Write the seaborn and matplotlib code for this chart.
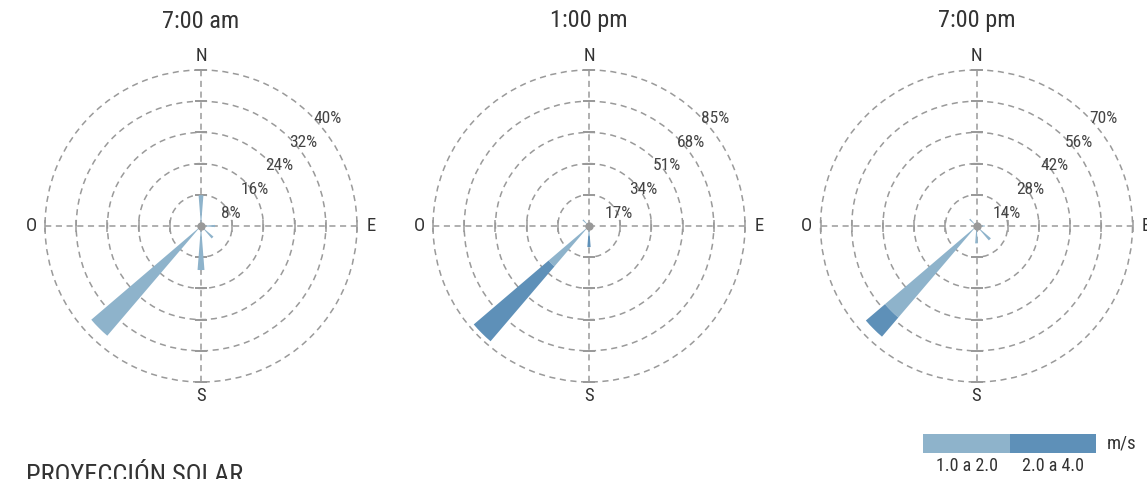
import numpy as np
import pandas as pd
import matplotlib
matplotlib.use("Agg")
import matplotlib.pyplot as plt
from matplotlib import font_manager
import seaborn as sns

# Data
times = ["7:00 am", "1:00 pm", "7:00 pm"]
ring_max = [40, 85, 70]
speed_classes = ["1.0 a 2.0", "2.0 a 4.0"]
compass = ["N", "NNE", "NE", "ENE", "E", "ESE", "SE", "SSE",
           "S", "SSW", "SW", "WSW", "W", "WNW", "NW", "NNW"]

# frequency (%) per direction, for each speed class
dir_am = ["N", "E", "SE", "S", "SW"]
low_am = [7.9, 3.6, 4.2, 11.3, 37.0]
high_am = [0, 0, 0, 0, 0]

dir_mid = ["S", "SW", "NW"]
low_mid = [5.1, 29.0, 4.7]
high_mid = [6.4, 53.6, 0]

dir_pm = ["E", "SE", "S", "SW", "NW"]
low_pm = [3.7, 8.5, 7.8, 54.0, 4.3]
high_pm = [0, 0, 0, 11.3, 0]

colors = ["#8EB3CB", "#5E90B8"]
grid_c = "#9a9a9a"
text_c = "#333333"

rows = []
for t, dirs, lo, hi in zip(times, [dir_am, dir_mid, dir_pm],
                           [low_am, low_mid, low_pm], [high_am, high_mid, high_pm]):
    for d, a, b in zip(dirs, lo, hi):
        rows.append(dict(time=t, direction=d, speed=speed_classes[0], value=a, bottom=0))
        if b > 0:
            rows.append(dict(time=t, direction=d, speed=speed_classes[1], value=b, bottom=a))
df = pd.DataFrame(rows)
df["theta"] = df["direction"].map(lambda d: np.deg2rad(compass.index(d) * 22.5))

sns.set_style("white")

# pick a condensed face if one is installed
fonts = font_manager.fontManager.ttflist
names = {f.name for f in fonts}
if "Roboto Condensed" in names:
    plt.rcParams["font.family"] = ["Roboto Condensed", "DejaVu Sans"]
elif "Liberation Sans Narrow" in names:
    plt.rcParams["font.family"] = ["Liberation Sans Narrow", "DejaVu Sans"]
elif any(f.name == "DejaVu Sans" and f.stretch == "condensed" for f in fonts):
    plt.rcParams["font.family"] = ["DejaVu Sans"]
    plt.rcParams["font.stretch"] = "condensed"
else:
    plt.rcParams["font.family"] = ["Roboto", "DejaVu Sans"]

palette = dict(zip(speed_classes, colors))


def rose(data, **kws):
    ax = plt.gca()
    ax.bar(data["theta"], data["value"], width=np.deg2rad(9), bottom=data["bottom"],
           color=data["speed"].map(palette), linewidth=0, zorder=3)


g = sns.FacetGrid(df, col="time", col_order=times, subplot_kws=dict(projection="polar"),
                  sharex=False, sharey=False, despine=False, height=4.79, aspect=11.47 / 3 / 4.79)
g.map_dataframe(rose)
fig = g.figure
fig.set_size_inches(11.47, 4.79)
fig.set_dpi(100)

W, H = 1147, 479
R = 156
pad = 1.02
centers = [201, 589, 976.5]
cy = 226

for ax, t, rmax, cx in zip(g.axes.flat, times, ring_max, centers):
    half = R * pad
    ax.set_position([(cx - half) / W, (H - cy - half) / H, 2 * half / W, 2 * half / H])
    ax.set_title("")
    ax.set_theta_zero_location("N")
    ax.set_theta_direction(-1)
    ax.set_ylim(0, rmax * pad)
    ticks = [rmax * i / 5 for i in range(1, 6)]
    ax.set_yticks(ticks)
    ax.set_yticklabels([])
    ax.set_xticks([])
    ax.set_xlabel("")
    ax.set_ylabel("")
    ax.spines["polar"].set_visible(False)
    ax.yaxis.grid(True, color=grid_c, linewidth=1.1, linestyle=(0, (4, 3)))
    ax.xaxis.grid(False)
    ax.set_facecolor("none")

    # cross lines and tick marks
    for deg in [0, 90, 180, 270]:
        th = np.deg2rad(deg)
        ax.plot([th, th], [0, rmax], color=grid_c, lw=1.1, ls=(0, (4, 3)), zorder=1)
        ax.plot([th] * 5, ticks, ls="none", marker="|" if deg in (90, 270) else "_",
                ms=8, mew=1.1, color=grid_c, zorder=1)
    ax.plot([0], [0], marker="o", ms=5, color="#999999", zorder=4)

    # percent labels
    for i, v in enumerate(ticks, start=1):
        dx = 0.0385 + 0.1545 * i
        dy = -0.0705 + 0.152 * i
        ax.text(np.arctan2(dx, dy), np.hypot(dx, dy) * rmax, f"{v:.0f}%",
                ha="center", va="center", fontsize=12.5, color="#444444", zorder=5)

    # cardinal labels
    for deg, lab in zip([0, 90, 180, 270], ["N", "E", "S", "O"]):
        ax.text(np.deg2rad(deg), rmax * 1.09, lab, ha="center", va="center",
                fontsize=13.5, color=text_c, clip_on=False)

    fig.text(cx / W, 1 - 21 / H, t, ha="center", va="center", fontsize=17.5, color=text_c)

# legend bar
lax = fig.add_axes([923 / W, (H - 452.5) / H, 173 / W, 19 / H])
lax.bar([0, 1], [1, 1], width=1, color=colors, linewidth=0)
lax.set_xlim(-0.5, 1.5)
lax.set_ylim(0, 1)
lax.axis("off")
fig.text(966.5 / W, 1 - 466 / H, speed_classes[0], ha="center", va="center", fontsize=13, color=text_c)
fig.text(1052.5 / W, 1 - 466 / H, speed_classes[1], ha="center", va="center", fontsize=13, color=text_c)
fig.text(1107 / W, 1 - 443 / H, "m/s", ha="left", va="center", fontsize=13.5, color=text_c)

# bottom heading, sized to the reference width (~219 px)
head = fig.text(26 / W, -4 / H, "PROYECCIÓN SOLAR", ha="left", va="baseline",
                fontsize=19, color=text_c)
renderer = fig.canvas.get_renderer()
wpx = head.get_window_extent(renderer).width
head.set_fontsize(min(19, 19 * 219 / wpx))

fig.savefig("out.png", dpi=100)
